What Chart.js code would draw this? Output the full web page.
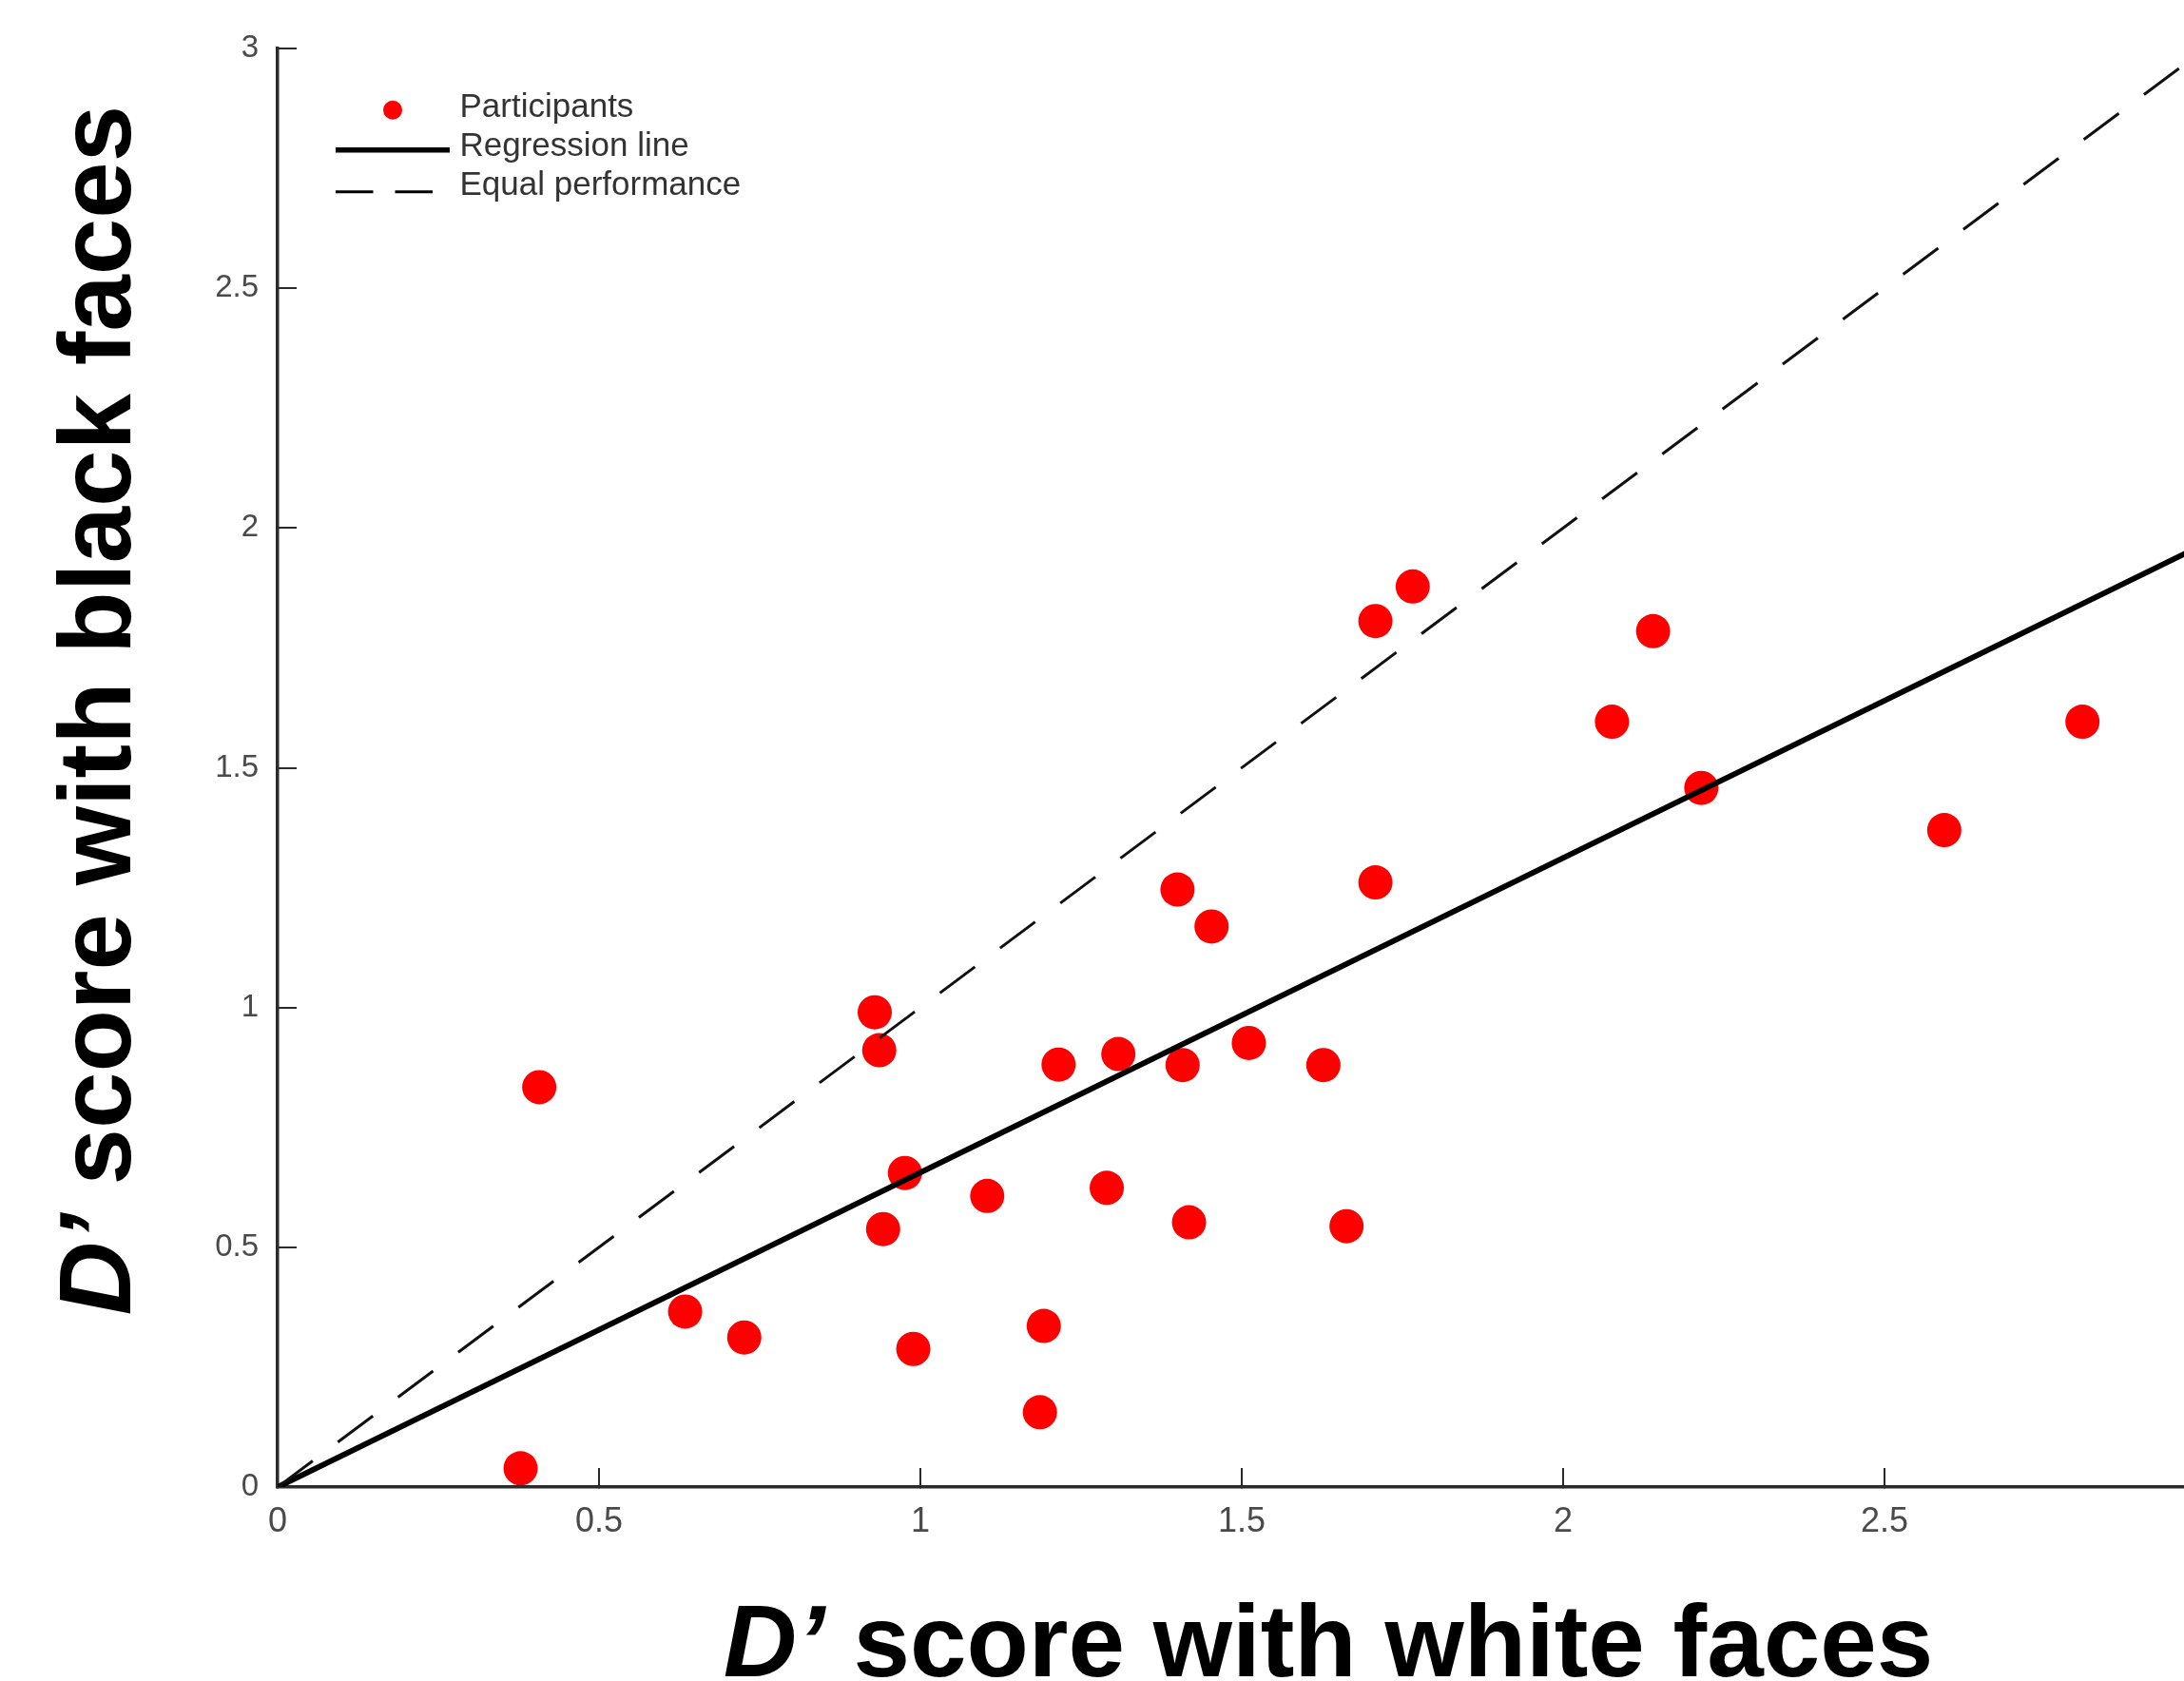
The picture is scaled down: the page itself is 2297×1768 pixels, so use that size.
<!DOCTYPE html>
<html lang="en">
<head>
  <meta charset="UTF-8">
  <title>D' score: white vs black faces</title>
  <script src="https://cdn.jsdelivr.net/npm/chart.js"></script>
  <style>
    html, body { margin: 0; padding: 0; background: #fff; overflow: hidden; }
    #wrap { width: 2297px; height: 1768px; }
    #dChart { display: block; }
  </style>
</head>
<body>
  <div id="wrap"><canvas id="dChart" width="2297" height="1768"></canvas></div>

  <script>
    // D' per participant: white faces (x) and black faces (y)
    const whiteScores = [0.378, 0.407, 0.634, 0.726, 0.929, 0.936, 0.942, 0.976, 0.989, 1.104,
                         1.186, 1.192, 1.215, 1.290, 1.308, 1.400, 1.408, 1.418, 1.453, 1.511,
                         1.627, 1.663, 1.708, 1.708, 1.766, 2.076, 2.140, 2.215, 2.593, 2.808];
    const blackScores = [0.039, 0.834, 0.366, 0.312, 0.990, 0.911, 0.538, 0.655, 0.288, 0.607,
                         0.156, 0.336, 0.881, 0.624, 0.903, 1.246, 0.880, 0.552, 1.169, 0.926,
                         0.880, 0.544, 1.806, 1.261, 1.878, 1.596, 1.785, 1.458, 1.370, 1.596];

    // regression line and the equal-performance diagonal
    const regressionX = [0, 3];
    const regressionY = [0, 1.968];
    const equalX = [0, 3];
    const equalY = [0, 3];

    const tickValues = [0, 0.5, 1, 1.5, 2, 2.5, 3];
    const seriesLabels = ['Participants', 'Regression line', 'Equal performance'];

    const toPoints = (xs, ys) => xs.map((x, i) => ({ x: x, y: ys[i] }));

    // little canvases used as legend symbols
    function makeIcon(draw) {
      const c = document.createElement('canvas');
      c.width = 184;
      c.height = 40;
      draw(c.getContext('2d'));
      return c;
    }
    const legendIcons = [
      makeIcon(ctx => {
        ctx.fillStyle = '#ff0000';
        ctx.beginPath();
        ctx.arc(123, 22.7, 10, 0, Math.PI * 2);
        ctx.fill();
      }),
      makeIcon(ctx => {
        ctx.strokeStyle = '#000';
        ctx.lineWidth = 5.5;
        ctx.beginPath();
        ctx.moveTo(63, 23.7);
        ctx.lineTo(183, 23.7);
        ctx.stroke();
      }),
      makeIcon(ctx => {
        ctx.strokeStyle = '#000';
        ctx.lineWidth = 3;
        ctx.setLineDash([39.5, 23]);
        ctx.beginPath();
        ctx.moveTo(63, 26.7);
        ctx.lineTo(165, 26.7);
        ctx.stroke();
      })
    ];

    // axis titles with the italic D'
    const axisTitles = {
      id: 'axisTitles',
      afterDraw(chart) {
        const ctx = chart.ctx;
        const italic = "italic bold 107px 'Liberation Sans', Arial, sans-serif";
        const bold = "bold 107px 'Liberation Sans', Arial, sans-serif";
        const drawTitle = (rest, cx, cy, angle) => {
          ctx.save();
          ctx.translate(cx, cy);
          ctx.rotate(angle);
          ctx.fillStyle = '#000';
          ctx.textBaseline = 'alphabetic';
          ctx.textAlign = 'left';
          ctx.font = italic;
          const w1 = ctx.measureText('D\u2019').width;
          ctx.font = bold;
          const w2 = ctx.measureText(rest).width;
          const start = -(w1 + w2) / 2;
          ctx.font = italic;
          ctx.fillText('D\u2019', start, 0);
          ctx.font = bold;
          ctx.fillText(rest, start + w1, 0);
          ctx.restore();
        };
        drawTitle(' score with white faces', 1397, 1763, 0);
        drawTitle(' score with black faces', 137, 747, -Math.PI / 2);
      }
    };

    const keepNiceTicks = scale => {
      scale.ticks = scale.ticks.filter(t => tickValues.some(v => Math.abs(v - t.value) < 1e-9));
    };

    const axisColor = '#2b2b2b';
    const tickFont = "'Liberation Sans', Arial, sans-serif";

    new Chart(document.getElementById('dChart'), {
      type: 'scatter',
      data: {
        datasets: [
          {
            label: seriesLabels[0],
            data: toPoints(whiteScores, blackScores),
            backgroundColor: '#ff0000',
            borderWidth: 0,
            pointRadius: 18,
            order: 2
          },
          {
            type: 'line',
            label: seriesLabels[1],
            data: toPoints(regressionX, regressionY),
            borderColor: '#000',
            borderWidth: 6,
            pointRadius: 0,
            fill: false,
            order: 1
          },
          {
            type: 'line',
            label: seriesLabels[2],
            data: toPoints(equalX, equalY),
            borderColor: '#111',
            borderWidth: 3,
            borderDash: [46, 33],
            pointRadius: 0,
            fill: false,
            order: 0
          }
        ]
      },
      options: {
        responsive: false,
        animation: false,
        events: [],
        layout: { autoPadding: false, padding: { top: 51, left: 0, right: 0, bottom: 0 } },
        scales: {
          x: {
            type: 'linear',
            min: 0,
            max: 2.966,
            border: { display: true, color: axisColor, width: 3.5 },
            grid: { display: true, drawOnChartArea: false, drawTicks: true, tickLength: -20, color: axisColor, lineWidth: 2 },
            ticks: {
              stepSize: 0.5,
              padding: 35,
              maxRotation: 0,
              color: '#4a4a4a',
              font: { family: tickFont, size: 36 },
              callback: v => String(v)
            },
            afterBuildTicks: keepNiceTicks,
            afterFit: s => { s.height = 204; s.paddingLeft = 0; s.paddingRight = 0; }
          },
          y: {
            type: 'linear',
            min: 0,
            max: 3,
            border: { display: true, color: axisColor, width: 3.5 },
            grid: { display: true, drawOnChartArea: false, drawTicks: true, tickLength: -20, color: axisColor, lineWidth: 2 },
            ticks: {
              stepSize: 0.5,
              padding: 40,
              color: '#4a4a4a',
              font: { family: tickFont, size: 33 },
              callback: v => String(v)
            },
            afterBuildTicks: keepNiceTicks,
            afterFit: s => { s.width = 292; s.paddingTop = 0; s.paddingBottom = 0; }
          }
        },
        plugins: {
          tooltip: { enabled: false },
          legend: {
            position: 'chartArea',
            align: 'start',
            title: { display: true, text: '', font: { size: 12, lineHeight: 1 }, padding: { top: 77.5, bottom: 0 } },
            labels: {
              usePointStyle: true,
              pointStyleWidth: 168,
              padding: 6,
              color: '#333',
              font: { family: tickFont, size: 35 },
              sort: (a, b) => a.datasetIndex - b.datasetIndex,
              generateLabels: chart => {
                const items = Chart.defaults.plugins.legend.labels.generateLabels(chart);
                items.forEach(it => { it.pointStyle = legendIcons[it.datasetIndex]; });
                return items;
              }
            }
          }
        }
      },
      plugins: [axisTitles]
    });
  </script>
</body>
</html>
